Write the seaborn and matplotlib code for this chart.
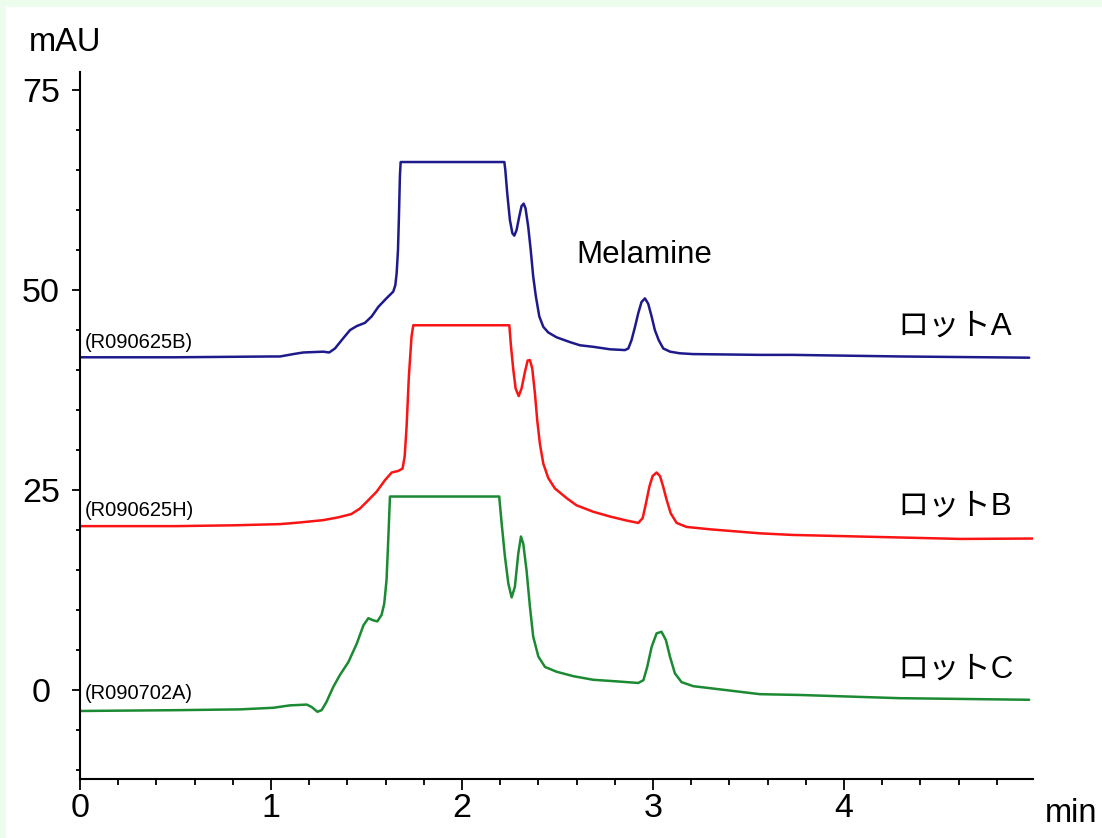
import numpy as np
import pandas as pd
import matplotlib
matplotlib.use("Agg")
import matplotlib.pyplot as plt
from matplotlib.patches import Rectangle
from matplotlib.ticker import MultipleLocator
import seaborn as sns

# ---------------- data ----------------
lot_names = ["ロットA", "ロットB", "ロットC"]
sample_ids = ["(R090625B)", "(R090625H)", "(R090702A)"]

time_a = [0.00, 0.50, 1.00, 1.047, 1.117, 1.169, 1.274, 1.305, 1.335, 1.379, 1.414,
          1.449, 1.492, 1.527, 1.562, 1.606, 1.64, 1.651, 1.658, 1.665, 1.67, 1.675,
          1.679, 2.222, 2.227, 2.237, 2.251, 2.264, 2.274, 2.286, 2.30, 2.312, 2.323,
          2.333, 2.347, 2.36, 2.373, 2.387, 2.405, 2.426, 2.452, 2.495, 2.565, 2.618,
          2.69, 2.775, 2.853, 2.871, 2.888, 2.906, 2.923, 2.94, 2.958, 2.975, 2.993,
          3.01, 3.03, 3.054, 3.09, 3.14, 3.21, 3.56, 3.73, 4.30, 4.97]
mau_a = [41.6, 41.6, 41.7, 41.7, 42.0, 42.2, 42.3, 42.2, 42.7, 44.0, 45.0,
         45.5, 45.9, 46.7, 47.9, 49.0, 49.8, 50.6, 52.1, 55.0, 59.2, 64.2,
         66.0, 66.0, 65.0, 62.1, 58.75, 57.1, 56.8, 57.5, 59.2, 60.5, 60.8,
         60.2, 57.9, 55.0, 51.7, 49.2, 46.7, 45.4, 44.7, 44.1, 43.5, 43.1,
         42.9, 42.6, 42.5, 42.7, 43.75, 45.4, 47.1, 48.5, 48.96, 48.3, 46.7,
         45.0, 43.75, 42.7, 42.3, 42.1, 42.0, 41.9, 41.9, 41.7, 41.55]

time_b = [0.00, 0.50, 0.80, 1.047, 1.152, 1.274, 1.353, 1.42, 1.466, 1.51, 1.553,
          1.597, 1.632, 1.667, 1.689, 1.70, 1.71, 1.722, 1.736, 1.745, 2.248, 2.257,
          2.269, 2.281, 2.297, 2.312, 2.33, 2.344, 2.356, 2.368, 2.382, 2.394, 2.408,
          2.426, 2.452, 2.487, 2.548, 2.60, 2.687, 2.775, 2.862, 2.923, 2.946, 2.963,
          2.981, 2.998, 3.019, 3.037, 3.054, 3.072, 3.093, 3.124, 3.176, 3.30, 3.56,
          3.73, 4.26, 4.61, 4.99]
mau_b = [20.5, 20.5, 20.6, 20.75, 20.96, 21.25, 21.6, 22.0, 22.7, 23.75, 24.8,
         26.25, 27.2, 27.4, 27.7, 29.2, 32.9, 39.2, 44.2, 45.6, 45.6, 42.9,
         40.0, 37.7, 36.75, 37.7, 39.8, 41.2, 41.25, 40.2, 37.1, 33.75, 30.8,
         28.3, 26.5, 25.2, 24.0, 23.1, 22.3, 21.7, 21.2, 20.9, 21.5, 23.3,
         25.4, 26.75, 27.2, 26.75, 25.4, 23.75, 22.1, 20.9, 20.4, 20.1, 19.6,
         19.4, 19.1, 18.9, 18.95]

time_c = [0.00, 0.50, 0.838, 1.012, 1.099, 1.187, 1.213, 1.243, 1.265, 1.29, 1.326,
          1.361, 1.405, 1.449, 1.484, 1.51, 1.532, 1.557, 1.579, 1.593, 1.605, 1.614,
          1.623, 2.195, 2.208, 2.225, 2.243, 2.26, 2.277, 2.295, 2.309, 2.321, 2.338,
          2.356, 2.373, 2.40, 2.435, 2.496, 2.583, 2.687, 2.81, 2.923, 2.95, 2.97,
          2.993, 3.019, 3.045, 3.068, 3.089, 3.115, 3.15, 3.211, 3.386, 3.56, 3.77,
          4.29, 4.97]
mau_c = [-2.6, -2.5, -2.4, -2.2, -1.9, -1.8, -2.1, -2.7, -2.5, -1.5, 0.4,
         1.9, 3.5, 5.8, 8.1, 9.0, 8.75, 8.6, 9.4, 10.8, 13.75, 18.75,
         24.2, 24.2, 20.8, 16.7, 13.3, 11.6, 12.9, 17.1, 19.2, 18.3, 15.0,
         10.4, 6.7, 4.2, 2.9, 2.3, 1.75, 1.3, 1.1, 0.9, 1.25, 2.9,
         5.4, 7.1, 7.3, 6.25, 4.2, 2.1, 1.0, 0.5, 0.0, -0.5, -0.6,
         -1.0, -1.2]

x_ticks = [0, 1, 2, 3, 4]
y_ticks = [0, 25, 50, 75]

# ---------------- build long-form table ----------------
df = pd.concat([
    pd.DataFrame({"time": time_a, "mAU": mau_a, "lot": lot_names[0]}),
    pd.DataFrame({"time": time_b, "mAU": mau_b, "lot": lot_names[1]}),
    pd.DataFrame({"time": time_c, "mAU": mau_c, "lot": lot_names[2]}),
], ignore_index=True)

colors = {"ロットA": "#1e1a8c", "ロットB": "#fa1414", "ロットC": "#1b8a32"}

sns.set_style("ticks")
plt.rcParams["font.family"] = ["Liberation Sans", "Noto Sans CJK JP"]
plt.rcParams["text.color"] = "black"
plt.rcParams["xtick.color"] = "black"
plt.rcParams["ytick.color"] = "black"
plt.rcParams["axes.edgecolor"] = "black"

W, H = 1102, 838
fig = plt.figure(figsize=(W / 100, H / 100), dpi=100)
fig.patch.set_facecolor("#edfded")
fig.add_artist(Rectangle((6 / W, 0), 1, (H - 7) / H, transform=fig.transFigure,
                         facecolor="white", edgecolor="none", zorder=-5))

ax = fig.add_axes([80 / W, 1 - 779 / H, (1033 - 80) / W, (779 - 72) / H])
ax.set_facecolor("white")

sns.lineplot(data=df, x="time", y="mAU", hue="lot", palette=colors,
             estimator=None, sort=False, linewidth=1.8, legend=False, ax=ax)

ax.set_xlim(0, 4.99)
ax.set_ylim(-11.1, 77.25)
ax.set_xlabel("")
ax.set_ylabel("")

sns.despine(ax=ax)
for s in ["left", "bottom"]:
    ax.spines[s].set_linewidth(1.5)
    ax.spines[s].set_color("black")

ax.set_xticks(x_ticks)
ax.set_xticklabels([str(v) for v in x_ticks])
ax.set_yticks(y_ticks)
ax.set_yticklabels([str(v) for v in y_ticks])
ax.xaxis.set_minor_locator(MultipleLocator(0.2))
ax.yaxis.set_minor_locator(MultipleLocator(5))

ax.tick_params(axis="x", which="major", length=8, width=1.3, labelsize=24.5, pad=2,
               color="black", labelcolor="black", direction="out")
ax.tick_params(axis="x", which="minor", length=4.5, width=1.3, color="black",
               direction="out")
ax.tick_params(axis="y", which="major", length=6, width=1.3, labelsize=24.5, pad=22,
               color="black", labelcolor="black", direction="out")
ax.tick_params(axis="y", which="minor", length=3, width=1.3, color="black",
               direction="out")
for lab in ax.get_yticklabels():
    lab.set_horizontalalignment("center")

# sample IDs on the left
id_y = [43.5, 22.4, -0.4]
for sid, yy in zip(sample_ids, id_y):
    ax.text(0.026, yy, sid, fontsize=14.5, ha="left", va="center", color="black")

# lot names on the right
lot_y = [45.4, 22.9, 2.6]
for ln, yy in zip(lot_names, lot_y):
    ax.text(4.28, yy, ln, fontsize=22.5, ha="left", va="center", color="black")

ax.text(2.60, 54.4, "Melamine", fontsize=22.5, ha="left", va="center", color="black")

fig.text(29 / W, 1 - 51 / H, "mAU", fontsize=23.5, ha="left", va="baseline", color="black")
fig.text(1045 / W, 1 - 822 / H, "min", fontsize=23.5, ha="left", va="baseline", color="black")

fig.savefig("out.png", dpi=100, facecolor=fig.get_facecolor())
